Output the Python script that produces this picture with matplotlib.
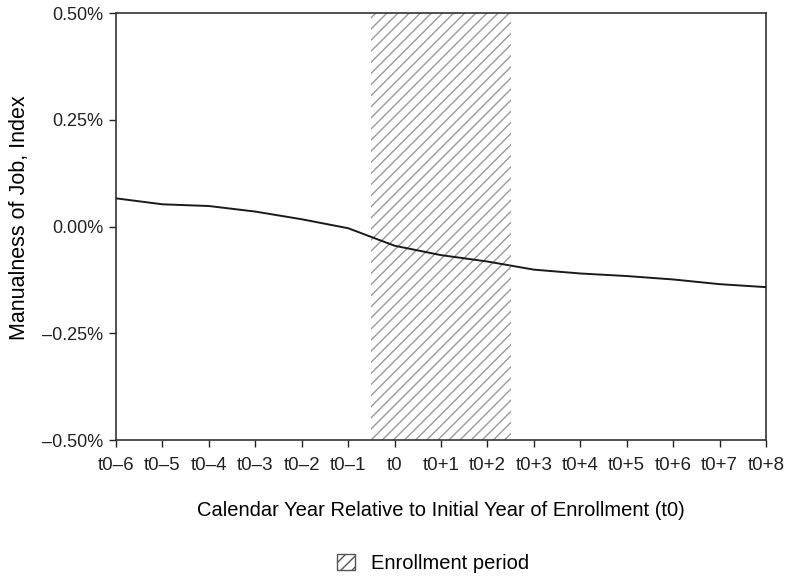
import matplotlib
matplotlib.use("Agg")
import matplotlib.pyplot as plt
from matplotlib.patches import Patch
from matplotlib.ticker import FuncFormatter

plt.rcParams['font.family'] = ['Liberation Sans', 'DejaVu Sans']
plt.rcParams['hatch.linewidth'] = 1.0

years = ['t0–6', 't0–5', 't0–4', 't0–3', 't0–2', 't0–1', 't0',
         't0+1', 't0+2', 't0+3', 't0+4', 't0+5', 't0+6', 't0+7', 't0+8']
manualness = [0.066, 0.052, 0.048, 0.035, 0.017, -0.004, -0.045,
              -0.067, -0.082, -0.101, -0.110, -0.116, -0.124, -0.135, -0.142]
enroll_start, enroll_end = 't0', 't0+2'

fig = plt.figure(figsize=(7.87, 5.76), dpi=100)
ax = fig.add_axes([0.1474, 0.2361, 0.8259, 0.7413])

x = list(range(len(years)))
i0, i1 = years.index(enroll_start), years.index(enroll_end)
ax.axvspan(i0 - 0.5, i1 + 0.5, facecolor='white', edgecolor='#9a9a9a',
           linewidth=0, hatch='///', zorder=1)
ax.plot(x, manualness, color='#1a1a1a', lw=1.4, zorder=3)

ax.set_xlim(0, len(years) - 1)
ax.set_ylim(-0.5, 0.5)
ax.set_yticks([-0.5, -0.25, 0, 0.25, 0.5])
ax.yaxis.set_major_formatter(FuncFormatter(
    lambda v, _: f'{v:.2f}%'.replace('-', '–')))
ax.set_xticks(x)
ax.set_xticklabels(years)
ax.tick_params(axis='both', direction='out', length=5, width=1,
               colors='#222222')
ax.tick_params(axis='x', labelsize=13.5, pad=7)
ax.tick_params(axis='y', labelsize=13, pad=4)
for s in ax.spines.values():
    s.set_linewidth(1.2)
    s.set_color('#333333')

ax.set_ylabel('Manualness of Job, Index', fontsize=15.5)
ax.yaxis.set_label_coords(-0.133, 0.52)
ax.set_xlabel('Calendar Year Relative to Initial Year of Enrollment (t0)',
              fontsize=14.5)
ax.xaxis.set_label_coords(0.5, -0.143)

handle = Patch(facecolor='white', edgecolor='#555555', hatch='///',
               label='Enrollment period')
fig.legend(handles=[handle], loc='center', bbox_to_anchor=(0.55, 0.022),
           frameon=False, fontsize=14.5, handlelength=0.9, handleheight=0.9,
           handletextpad=0.8)

fig.savefig('out.png', dpi=100)
